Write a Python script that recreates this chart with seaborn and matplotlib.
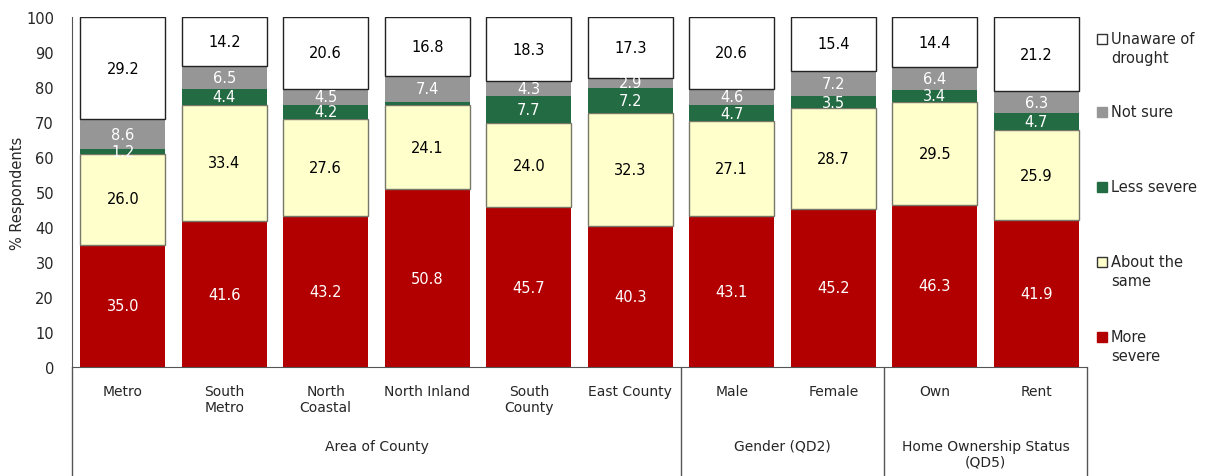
import numpy as np
import pandas as pd
import matplotlib
matplotlib.use("Agg")
import matplotlib.pyplot as plt
import seaborn as sns
from matplotlib.patches import Rectangle

# categories and groups
categories = ["Metro", "South\nMetro", "North\nCoastal", "North Inland", "South\nCounty",
              "East County", "Male", "Female", "Own", "Rent"]
groups = ["Area of County", "Gender (QD2)", "Home Ownership Status\n(QD5)"]
group_sizes = [6, 2, 2]

# % respondents, bottom to top
more_severe = [35.0, 41.6, 43.2, 50.8, 45.7, 40.3, 43.1, 45.2, 46.3, 41.9]
about_same = [26.0, 33.4, 27.6, 24.1, 24.0, 32.3, 27.1, 28.7, 29.5, 25.9]
less_severe = [1.2, 4.4, 4.2, 0.9, 7.7, 7.2, 4.7, 3.5, 3.4, 4.7]
not_sure = [8.6, 6.5, 4.5, 7.4, 4.3, 2.9, 4.6, 7.2, 6.4, 6.3]
unaware = [29.2, 14.2, 20.6, 16.8, 18.3, 17.3, 20.6, 15.4, 14.4, 21.2]

series = ["More\nsevere", "About the\nsame", "Less severe", "Not sure", "Unaware of\ndrought"]
colors = ["#B20000", "#FFFFCC", "#236B42", "#969696", "#FFFFFF"]
edge_colors = ["none", "#77776A", "none", "none", "#222222"]
text_colors = ["white", "black", "white", "white", "black"]

df = pd.DataFrame({"cat": categories, "s0": more_severe, "s1": about_same,
                   "s2": less_severe, "s3": not_sure, "s4": unaware})
vals = df[["s0", "s1", "s2", "s3", "s4"]].to_numpy()
cum = vals.cumsum(axis=1)
bottoms = cum - vals

sns.set_style("white")
plt.rcParams["font.family"] = ["DejaVu Sans"]

fig = plt.figure(figsize=(12.05, 4.77), dpi=100)
ax = fig.add_axes([72 / 1205, 1 - 368 / 477, (1087 - 72) / 1205, 350 / 477])

# stacked bars, one layer at a time
for i in range(5):
    sns.barplot(x=df["cat"], y=vals[:, i], bottom=bottoms[:, i], color=colors[i],
                saturation=1, width=0.84, edgecolor=edge_colors[i],
                linewidth=0 if edge_colors[i] == "none" else 1.0, ax=ax)

# value labels
for j in range(len(categories)):
    for i in range(5):
        v = vals[j, i]
        if v < 1:
            continue
        ax.text(j, cum[j, i] - v / 2, f"{v:.1f}", ha="center", va="center",
                fontsize=10.5, color=text_colors[i])

ax.set_ylim(0, 100)
ax.set_xlim(-0.5, len(categories) - 0.5)
ax.set_yticks(range(0, 101, 10))
ax.tick_params(axis="y", labelsize=10.5, length=0, pad=13)
ax.tick_params(axis="x", labelsize=10, length=0, pad=12)
ax.set_xlabel("")
ax.set_ylabel("% Respondents", fontsize=10.5, labelpad=1)
sns.despine(ax=ax, top=True, right=True)
for s in ["left", "bottom"]:
    ax.spines[s].set_color("#555555")

# group labels and dividers below the axis
trans = ax.get_xaxis_transform()
edges_x = np.concatenate([[0], np.cumsum(group_sizes)]) - 0.5
bot = -(477 - 368) / 350
for x in edges_x:
    ax.plot([x, x], [0, bot], transform=trans, color="#555555", lw=1, clip_on=False)
for g, a, b in zip(groups, edges_x[:-1], edges_x[1:]):
    ax.text((a + b) / 2, -0.205, g, transform=trans, ha="center", va="top", fontsize=10)

# legend on the right
leg_y = [40, 113, 188, 263, 338]
for i, y in zip(range(4, -1, -1), leg_y):
    ec = colors[i] if edge_colors[i] == "none" else "#333333"
    fig.patches.append(Rectangle((1097 / 1205, 1 - (y + 5) / 477), 10 / 1205, 10 / 477,
                                 transform=fig.transFigure, facecolor=colors[i],
                                 edgecolor=ec, lw=1))
    fig.text(1111 / 1205, 1 - (y - 8) / 477, series[i], ha="left", va="top",
             fontsize=10.5, linespacing=1.35)

fig.savefig("out.png", dpi=100)
